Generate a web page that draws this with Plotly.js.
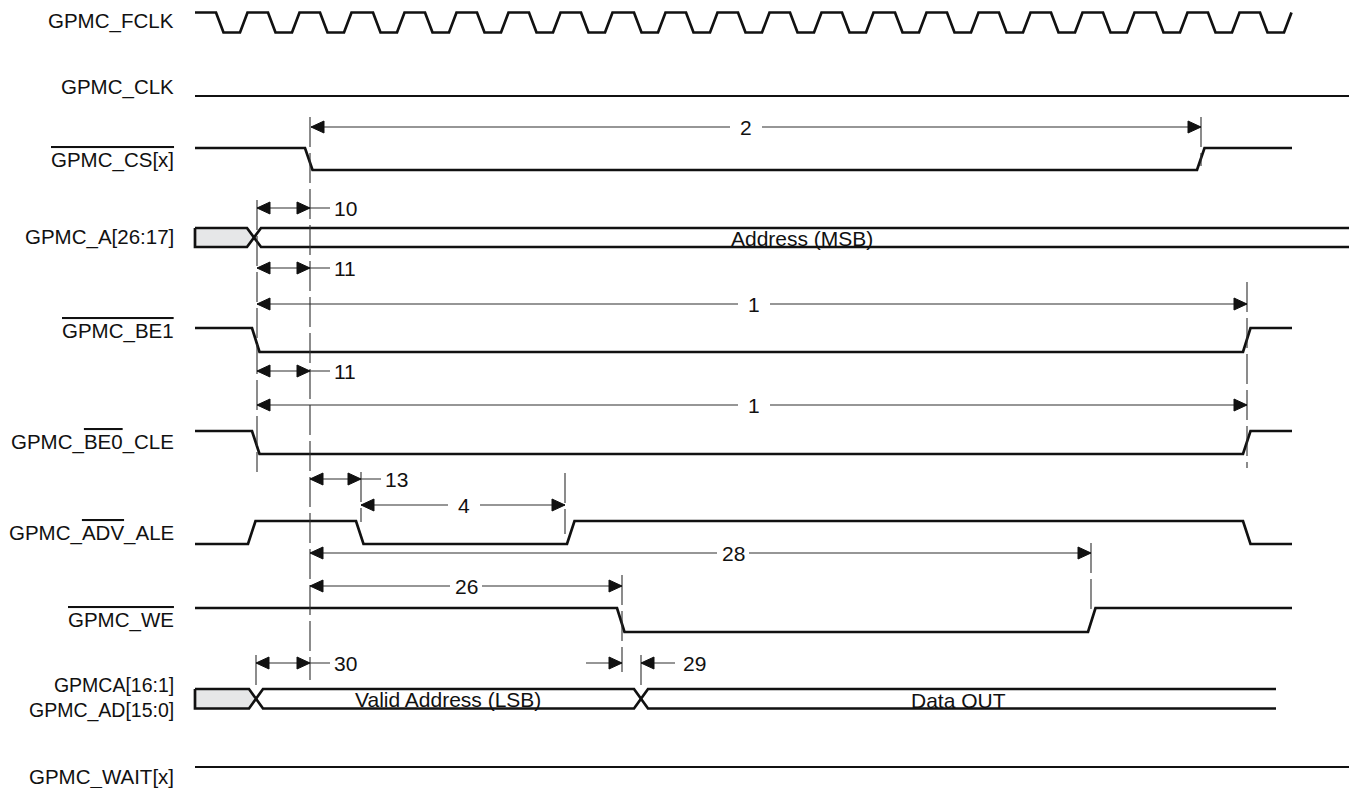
<!DOCTYPE html>
<html><head><meta charset="utf-8">
<script src="https://cdn.plot.ly/plotly-3.0.1.min.js"></script>
<style>html,body{margin:0;padding:0;background:#fff;overflow:hidden}#chart{width:1351px;height:788px}</style>
</head><body><div id="chart"></div>
<script>
// ================= DATA =================
// Signal names; text in {} is active-low (drawn with an overline); '|' separates two lines
const signalLabels = ['GPMC_FCLK','GPMC_CLK','{GPMC_CS[x]}','GPMC_A[26:17]','{GPMC_BE1}',
  'GPMC_{BE0}_CLE','GPMC_{ADV}_ALE','{GPMC_WE}','GPMCA[16:1]|GPMC_AD[15:0]','GPMC_WAIT[x]'];
// Clock edges (time axis units)
const clkFallEdges = [216,268,320,373,425,477,529,581,634,686,738,790,842,895,947,999,1051,1103,1156,1208,1260];
const clkRiseEdges = [240,292,344,397,449,501,553,605,658,710,762,814,866,919,971,1023,1075,1127,1180,1232,1284];
// Control signals: start level and transition times
const csStartHigh = true;   const csEdges  = [305, 1197];
const be1StartHigh = true;  const be1Edges = [252, 1243];
const be0StartHigh = true;  const be0Edges = [252, 1243];
const advStartHigh = false; const advEdges = [248, 356, 567, 1243];
const weStartHigh = true;   const weEdges  = [617, 1088];
// Buses: crossing (X) times and texts
const addrMsbCrossings = [254];
const adCrossings = [256, 641];
const busTexts = ['Address (MSB)', 'Valid Address (LSB)', 'Data OUT'];
const busTextAt = [802, 448, 958];
// Timing parameters (dimension arrows)
const dimLabels = ['2','10','11','1','11','1','13','4','28','26','30','29'];
const dimFrom   = [311,257,257,257,257,257,310,361,310,310,256,622];
const dimTo     = [1201,310,310,1247,310,1247,361,565,1091,622,310,641];
const dimLabelAt= [746,null,null,754,null,754,null,464,733,466,null,null];
// Reference (dashed) timing marks
const refLineX  = [310,257,1201,1247,361,565,1091,622,641,256];

// ================= LAYOUT CONFIG (geometry & style) =================
const T0 = 195, T_END = 1292, T_FULL = 1349, TW = 7.5, XW = 7;
const FONT = 'Liberation Sans, Arial, Helvetica, sans-serif';
const INK = '#111111', THIN = '#2e2e2e', GREY = '#e6e7e8';
const SIG_W = 2.7, DIM_W = 1.1;
const LABEL_SIZE = 20.5, NUM_SIZE = 21, BUS_SIZE = 21;
const labelY = [21,87,160,237,331,442,533,620,697.5,777];
const row = {
  fclk:{hi:12.5, lo:32.5}, clk:96, cs:{hi:148, lo:170}, a:{hi:228, lo:247},
  be1:{hi:328, lo:352}, be0:{hi:431, lo:454}, adv:{hi:521, lo:544}, we:{hi:608, lo:632},
  ad:{hi:689, lo:708.5}, wait:767
};
const dimY    = [127,208,268,304,371,405,479,505,553,586,663,663];
const dimKind = ['mid','side','side','mid','side','mid','side','mid','mid','mid','side','outside'];
const refY0 = [117,200,117,282,472,473,543,575,655,655];
const refY1 = [680,472,166,468,522,534,612,672,690,690];
const AH_L = 13, AH_H = 6, GAP = 16;

// ================= BUILD =================
const traces = [];
const annotations = [];

function wave(startHigh, edges, t0, t1, r){
  const xs=[t0], ys=[startHigh?r.hi:r.lo];
  let lvl = startHigh;
  edges.forEach(e=>{ xs.push(e); ys.push(lvl?r.hi:r.lo); lvl=!lvl; xs.push(e+TW); ys.push(lvl?r.hi:r.lo); });
  if (t1 > xs[xs.length-1]) { xs.push(t1); ys.push(lvl?r.hi:r.lo); }
  return {type:'scatter', mode:'lines', x:xs, y:ys, line:{color:INK, width:SIG_W, shape:'linear'}, hoverinfo:'skip'};
}
function flat(y){
  return {type:'scatter', mode:'lines', x:[T0,T_FULL], y:[y,y], line:{color:INK, width:2}, hoverinfo:'skip'};
}

// clock
const clkEdges = clkFallEdges.concat(clkRiseEdges).sort((a,b)=>a-b);
traces.push(wave(true, clkEdges, T0, clkRiseEdges[clkRiseEdges.length-1]+TW, row.fclk));
traces.push(flat(row.clk));
traces.push(wave(csStartHigh, csEdges, T0, T_END, row.cs));
traces.push(wave(be1StartHigh, be1Edges, T0, T_END, row.be1));
traces.push(wave(be0StartHigh, be0Edges, T0, T_END, row.be0));
traces.push(wave(advStartHigh, advEdges, T0, T_END, row.adv));
traces.push(wave(weStartHigh, weEdges, T0, T_END, row.we));
traces.push(flat(row.wait));

// buses
function bus(crossings, tEnd, r){
  const mid = (r.hi + r.lo)/2;
  const c0 = crossings[0];
  traces.push({type:'scatter', mode:'lines', fill:'toself', fillcolor:GREY,
    x:[T0, c0-XW, c0, c0-XW, T0, T0], y:[r.hi, r.hi, mid, r.lo, r.lo, r.hi],
    line:{color:INK, width:SIG_W}, hoverinfo:'skip'});
  const xs=[], ys=[];
  for (let i=0;i<crossings.length;i++){
    const c = crossings[i];
    const nx = (i+1<crossings.length) ? crossings[i+1] : null;
    if (nx!==null){
      xs.push(c, c+XW, nx-XW, nx, nx-XW, c+XW, c, null);
      ys.push(mid, r.hi, r.hi, mid, r.lo, r.lo, mid, null);
    } else {
      xs.push(tEnd, c+XW, c, c+XW, tEnd, null);
      ys.push(r.hi, r.hi, mid, r.lo, r.lo, null);
    }
  }
  traces.push({type:'scatter', mode:'lines', x:xs, y:ys, line:{color:INK, width:SIG_W}, hoverinfo:'skip', connectgaps:false});
}
bus(addrMsbCrossings, T_FULL, row.a);
bus(adCrossings, 1276, row.ad);
annotations.push({x:busTextAt[0], y:(row.a.hi+row.a.lo)/2+0.5, text:busTexts[0], size:BUS_SIZE});
annotations.push({x:busTextAt[1], y:(row.ad.hi+row.ad.lo)/2+0.5, text:busTexts[1], size:BUS_SIZE});
annotations.push({x:busTextAt[2], y:(row.ad.hi+row.ad.lo)/2+1.5, text:busTexts[2], size:BUS_SIZE});

// reference dashed lines
refLineX.forEach((x,i)=>{
  traces.push({type:'scatter', mode:'lines', x:[x,x], y:[refY0[i], refY1[i]],
    line:{color:THIN, width:DIM_W, dash:'30px,6px'}, hoverinfo:'skip'});
});

// dimensions
const dx=[], dy=[], ax=[], ay=[];
function seg(x0,x1,y){ dx.push(x0,x1,null); dy.push(y,y,null); }
function head(tip, dir, y){ // dir -1: points left, +1: points right
  ax.push(tip, tip - dir*AH_L, tip - dir*AH_L, tip, null);
  ay.push(y, y-AH_H, y+AH_H, y, null);
}
dimLabels.forEach((lab,i)=>{
  const x0=dimFrom[i], x1=dimTo[i], y=dimY[i], k=dimKind[i];
  if (k==='mid'){
    const c = dimLabelAt[i];
    seg(x0, c-GAP, y); seg(c+GAP, x1, y);
    head(x0,-1,y); head(x1,1,y);
    annotations.push({x:c, y:y, text:lab, size:NUM_SIZE});
  } else if (k==='side'){
    seg(x0, x1+20, y);
    head(x0,-1,y); head(x1,1,y);
    annotations.push({x:x1+22, y:y, text:lab, size:NUM_SIZE, xanchor:'left'});
  } else {
    seg(x0-36, x0, y); head(x0,1,y);
    seg(x1, x1+34, y); head(x1,-1,y);
    annotations.push({x:x1+40, y:y, text:lab, size:NUM_SIZE, xanchor:'left'});
  }
});
traces.push({type:'scatter', mode:'lines', x:dx, y:dy, line:{color:THIN, width:DIM_W}, hoverinfo:'skip'});
traces.push({type:'scatter', mode:'lines', x:ax, y:ay, fill:'toself', fillcolor:INK,
  line:{color:INK, width:1}, hoverinfo:'skip'});

// signal labels
signalLabels.forEach((s,i)=>{
  const html = s.replace(/\{([^}]*)\}/g, '<span style="text-decoration:overline">$1</span>').replace('|','<br>');
  const multi = s.indexOf('|') >= 0;
  annotations.push({x:176, y:labelY[i], text:html, xanchor:'right', align:'right',
    size: multi ? 19.5 : LABEL_SIZE});
});

const ann = annotations.map(a=>({
  xref:'x', yref:'y', x:a.x, y:a.y, text:a.text, showarrow:false,
  xanchor:a.xanchor||'center', yanchor:'middle', align:a.align||'center',
  font:{family:FONT, size:a.size, color:INK}
}));

const layout = {
  width:1351, height:788, margin:{l:0,r:0,t:0,b:0},
  paper_bgcolor:'#ffffff', plot_bgcolor:'#ffffff', showlegend:false, hovermode:false,
  xaxis:{range:[0,1351], visible:false, fixedrange:true},
  yaxis:{range:[788,0], visible:false, fixedrange:true},
  annotations:ann
};
Plotly.newPlot('chart', traces, layout, {displayModeBar:false, staticPlot:true});
</script></body></html>
